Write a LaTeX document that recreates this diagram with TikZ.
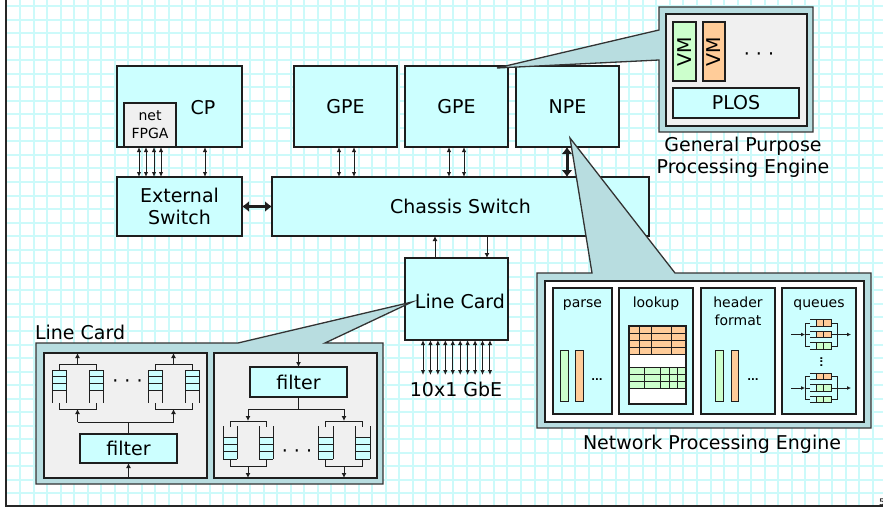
\documentclass[tikz,border=0pt]{standalone}
\usepackage{fontspec}
\setmainfont{DejaVu Sans}
\usetikzlibrary{arrows.meta,calc}
\definecolor{cfill}{HTML}{CCFFFF}
\definecolor{tealp}{RGB}{184,221,224}
\definecolor{grayp}{HTML}{F0F0F0}
\definecolor{gfill}{HTML}{CCFFCC}
\definecolor{ofill}{HTML}{FFCC99}
\definecolor{gridc}{HTML}{CCFAFA}
\definecolor{edgec}{HTML}{1E1E1E}
\newcommand\fbig{\fontsize{19}{22}\selectfont}
\newcommand\fsml{\fontsize{14}{18}\selectfont}
\newcommand\bx[7]{\node[#2,minimum width={(#5)-(#3)},minimum height={(#6)-(#4)}] (#1) at ({((#3)+(#5))/2},{((#4)+(#6))/2}) {#7};}
\newcommand\lcq[6]{%
  \fill[cfill] (#1,#5) rectangle (#2,#6);
  \foreach \k in {0,1,2,3} {\draw[qline] (#1,{#5+\k*(#6-#5)/3}) -- (#2,{#5+\k*(#6-#5)/3});}
  \draw[qline] (#1,#3) -- (#1,#4) (#2,#3) -- (#2,#4);}
\newcommand\nqrow[2]{%
  \fill[#2] (816,{#1-3.2}) rectangle (831,{#1+3.2});
  \draw[qline] (810,{#1-3.2}) -- (831,{#1-3.2}) -- (831,{#1+3.2}) -- (810,{#1+3.2});
  \draw[qline] (823.5,{#1-3.2}) -- (823.5,{#1+3.2}) (816,{#1-3.2}) -- (816,{#1+3.2});}
\newcommand\nqgroup[4]{%
  \nqrow{#1-11.5}{#2}\nqrow{#1}{#3}\nqrow{#1+11.5}{#4}
  \draw[qline] (810,{#1-11.5}) -- (805,{#1-11.5}) -- (805,{#1+11.5}) -- (810,{#1+11.5}) (805,#1) -- (810,#1);
  \draw[sarr] (791,#1) -- (805,#1);
  \draw[qline] (831,{#1-11.5}) -- (837,{#1-11.5}) -- (837,{#1+11.5}) -- (831,{#1+11.5}) (831,#1) -- (837,#1);
  \draw[sarr] (837,#1) -- (851,#1);}
\begin{document}
\begin{tikzpicture}[x=1pt,y=-1pt,
  box/.style={draw=edgec,line width=1.2pt,fill=cfill,inner sep=0pt,outer sep=0pt,font=\fbig,align=center},
  gbox/.style={box,fill=grayp,font=\fsml},
  wbox/.style={box,fill=white},
  bar/.style={draw=edgec,line width=1pt,inner sep=0pt,outer sep=0pt},
  callout/.style={fill=tealp,draw=black!80,line width=1.3pt,line join=miter},
  qline/.style={draw=edgec,line width=0.9pt},
  gridline/.style={draw=gridc,line width=2pt},
  dbl/.style={{Latex[length=5pt,width=4.5pt]}-{Latex[length=5pt,width=4.5pt]},line width=1pt,draw=edgec},
  arr/.style={-{Latex[length=5pt,width=5pt]},line width=1pt,draw=edgec},
  sarr/.style={-{Latex[length=4pt,width=4pt]},line width=0.9pt,draw=edgec},
  thickdbl/.style={{Latex[length=7pt,width=11pt]}-{Latex[length=7pt,width=11pt]},line width=3pt,draw=edgec},
  lbl/.style={inner sep=0pt,outer sep=0pt}]
\useasboundingbox (0,0) rectangle (883,508);
\fill[white] (0,0) rectangle (883,508);
% grid
\foreach \i in {0,...,64} {\draw[gridline] ({6.46+13.54*\i},0) -- ({6.46+13.54*\i},506);}
\foreach \j in {0,...,36} {\draw[gridline] (6,{6+13.54*\j}) -- (883,{6+13.54*\j});}
% frame
\draw[line width=2.3pt,black!85] (6,0) -- (6,506) -- (883,506);

% main boxes
\bx{cp}{box}{117}{66}{242}{147}{}
\node[lbl,font=\fbig] (cplbl) at (203,108) {CP};
\bx{fpga}{gbox}{124}{103}{176}{147}{net\\FPGA}
\bx{ext}{box}{117}{177}{242}{236}{External\\Switch}
\bx{gpeA}{box}{294}{66}{397}{147}{GPE}
\bx{gpeB}{box}{405}{66}{508}{147}{GPE}
\bx{npe}{box}{516}{66}{619}{147}{NPE}
\bx{chassis}{box}{272}{177}{649}{236}{Chassis Switch}
\bx{lc}{box}{405}{258}{508}{340}{}

% main connectors
\foreach \dx in {15,22,30,37} {
  \coordinate (t) at ($(fpga.south west)+(\dx,0)$);
  \draw[dbl] (t) -- (t |- ext.north);}
\coordinate (t) at ($(cp.south west)+(88,0)$);
\draw[dbl] (t) -- (t |- ext.north);
\foreach \dx in {45,60} {
  \coordinate (t) at ($(gpeA.south west)+(\dx,0)$);
  \draw[dbl] (t) -- (t |- chassis.north);}
\foreach \dx in {44,59} {
  \coordinate (t) at ($(gpeB.south west)+(\dx,0)$);
  \draw[dbl] (t) -- (t |- chassis.north);}
\coordinate (t) at ($(npe.south west)+(51,0)$);
\draw[thickdbl] (t) -- (t |- chassis.north);
\draw[thickdbl] (ext.east) -- (chassis.west |- ext.east);
\coordinate (t) at ($(lc.north west)+(30,0)$);
\draw[arr] (t) -- (t |- chassis.south);
\coordinate (t) at ($(lc.north west)+(82,0)$);
\draw[arr] (t |- chassis.south) -- (t);
\node[lbl,font=\fbig] (gbe) at (456,389) {10x1 GbE};
\coordinate (gbeTop) at (456,375);
\foreach \k in {0,...,9} {
  \coordinate (t) at ($(lc.south west)+({18+7.44*\k},0)$);
  \draw[dbl] (t) -- (t |- gbeTop);}

% callouts
\draw[callout] (659,7) -- (813,7) -- (813,132) -- (659,132) -- (659,60) -- (497,68) -- (659,30) -- cycle;
\draw[callout] (537,273) -- (592,273) -- (570,138) -- (675,273) -- (871,273) -- (871,428) -- (537,428) -- cycle;
\draw[callout] (36,343) -- (238,343) -- (412,302) -- (325,343) -- (383,343) -- (383,484) -- (36,484) -- cycle;
\node[lbl,font=\fbig] (lclbl) at (460,301) {Line Card};

% GPE callout contents
\bx{gpein}{gbox}{666}{14}{807}{126}{}
\bx{vmA}{box,fill=gfill}{673}{22}{696}{81}{}
\bx{vmB}{box,fill=ofill}{703}{22}{725}{81}{}
\node[lbl,font=\fbig,rotate=90] (vmAl) at (vmA) {VM};
\node[lbl,font=\fbig,rotate=90] (vmBl) at (vmB) {VM};
\node[lbl,font=\fbig] (gdots) at (759,57) {· · ·};
\bx{plos}{box}{673}{88}{799}{118}{PLOS}
\node[lbl,font=\fbig,align=center] (gpecap) at (743,157.5) {General Purpose\\Processing Engine};

% NPE callout contents
\bx{npein}{wbox}{545}{281}{864}{422}{}
\bx{cparse}{box}{553}{288}{612}{414}{}
\bx{clook}{box}{619}{288}{693}{414}{}
\bx{chead}{box}{701}{288}{775}{414}{}
\bx{cque}{box}{782}{288}{856}{414}{}
\node[lbl,font=\fsml,anchor=base] (lparse) at (cparse.north |- 0,307) {parse};
\node[lbl,font=\fsml,anchor=base] (llook) at (clook.north |- 0,307) {lookup};
\node[lbl,font=\fsml,anchor=base] (lhead) at (chead.north |- 0,307) {header};
\node[lbl,font=\fsml,anchor=base] (lform) at (chead.north |- 0,325) {format};
\node[lbl,font=\fsml,anchor=base] (lque) at (cque.north |- 0,307) {queues};
\bx{pg}{bar,fill=gfill}{560}{350}{568}{401}{}
\bx{po}{bar,fill=ofill}{575}{350}{583}{401}{}
\node[lbl,font=\bfseries\fontsize{10}{12}\selectfont,anchor=base] (pdots) at (597,380) {...};
\bx{hg}{bar,fill=gfill}{715}{350}{723}{401}{}
\bx{ho}{bar,fill=ofill}{731}{350}{738}{401}{}
\node[lbl,font=\bfseries\fontsize{10}{12}\selectfont,anchor=base] (hdots) at (753,380) {...};
% lookup table
\fill[white] (629,326) rectangle (686,404);
\fill[ofill] (629,326) rectangle (686,354);
\fill[gfill] (629,367) rectangle (686,388);
\foreach \y in {333,340.5,347.5,354} {\draw[qline] (629,\y) -- (686,\y);}
\foreach \x in {639,651,671} {\draw[qline] (\x,326) -- (\x,354);}
\foreach \y in {367,374.3,381.7,388.3} {\draw[qline] (629,\y) -- (686,\y);}
\foreach \x in {644,660,669,677} {\draw[qline] (\x,367) -- (\x,388.3);}
\draw[line width=1.2pt,edgec] (629,326) rectangle (686,404);
% queues
\nqgroup{334.5}{ofill}{ofill}{gfill}
\nqgroup{388}{ofill}{gfill}{gfill}
\node[lbl,font=\bfseries\fontsize{10}{12}\selectfont,rotate=90] (qdots) at (821.5,362) {...};
\node[lbl,font=\fbig] (npecap) at (712,444) {Network Processing Engine};

% Line card callout contents
\node[lbl,font=\fbig,anchor=west] (lccap) at (35,332) {Line Card};
\bx{lcL}{gbox}{44}{353}{207}{478}{}
\bx{lcR}{gbox}{214}{353}{377}{478}{}
\bx{filtL}{box}{80}{434}{177}{463}{filter}
\bx{filtR}{box}{250}{367}{347}{397}{filter}
% left panel
\lcq{52}{66}{370}{403}{370}{390}
\lcq{89}{103}{370}{403}{370}{390}
\lcq{148}{162}{370}{403}{370}{390}
\lcq{185}{199}{370}{403}{370}{390}
\draw[qline] (59,370) -- (59,364) -- (96,364) -- (96,370);
\draw[qline] (155,370) -- (155,364) -- (192,364) -- (192,370);
\coordinate (u1) at (77.5,364);
\coordinate (u2) at (173.5,364);
\draw[arr] (u1) -- (u1 |- lcL.north);
\draw[arr] (u2) -- (u2 |- lcL.north);
\draw[qline] (59,403) -- (59,409) -- (96,409) -- (96,403);
\draw[qline] (155,403) -- (155,409) -- (192,409) -- (192,403);
\draw[arr] (77.5,422) -- (77.5,409);
\draw[arr] (173.5,422) -- (173.5,409);
\draw[qline] (77.5,422) -- (173.5,422);
\draw[qline] (filtL.north) -- ++(0,-12);
\draw[arr] (filtL.south |- lcL.south) -- (filtL.south);
\node[lbl,font=\fbig] (ldots) at (127.5,384) {· · ·};
% right panel
\draw[arr] (filtR.north |- lcR.north) -- (filtR.north);
\draw[qline] (filtR.south) -- ++(0,12);
\draw[qline] (248,409) -- (344,409);
\draw[arr] (248,409) -- (248,421);
\draw[arr] (344,409) -- (344,421);
\lcq{223}{237}{426}{459}{437}{459}
\lcq{259}{273}{426}{459}{437}{459}
\lcq{318}{333}{426}{459}{437}{459}
\lcq{355}{370}{426}{459}{437}{459}
\draw[qline] (230,427) -- (230,421) -- (266,421) -- (266,427);
\draw[qline] (325.5,427) -- (325.5,421) -- (362.5,421) -- (362.5,427);
\draw[qline] (230,459) -- (230,466) -- (266,466) -- (266,459);
\draw[qline] (325.5,459) -- (325.5,466) -- (362.5,466) -- (362.5,459);
\coordinate (d1) at (248,466);
\coordinate (d2) at (344,466);
\draw[arr] (d1) -- (d1 |- lcR.south);
\draw[arr] (d2) -- (d2 |- lcR.south);
\node[lbl,font=\fbig] (rdots) at (297,454) {· · ·};

% page number
\node[lbl,font=\fontsize{9}{10}\selectfont,anchor=west] (pnum) at (879,502) {5};
\end{tikzpicture}
\end{document}
